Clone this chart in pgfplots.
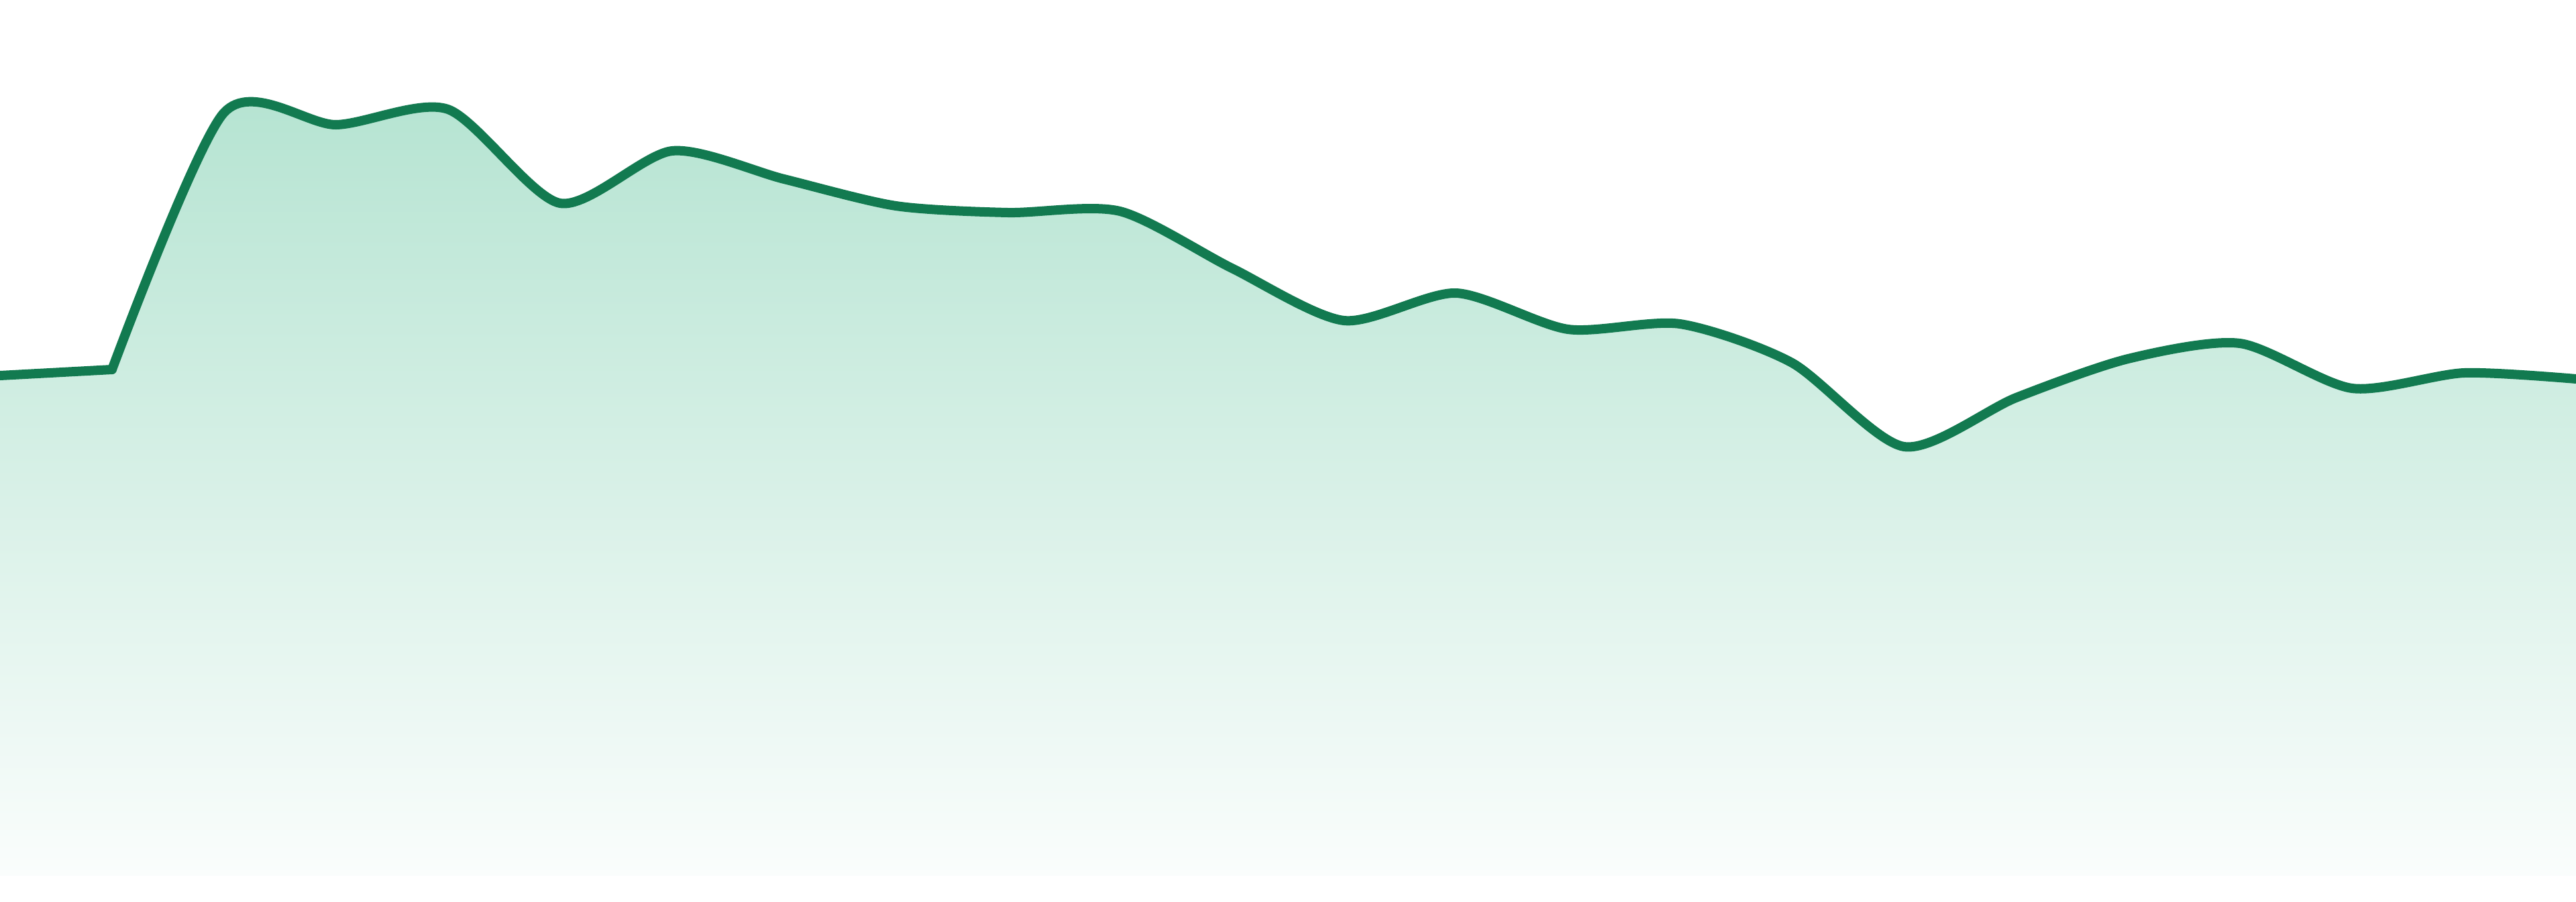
\documentclass[border=0pt]{standalone}
\usepackage{pgfplots}
\pgfplotsset{compat=1.18}
\definecolor{linegreen}{RGB}{18,122,80}
\definecolor{filltop}{RGB}{182,228,210}
\definecolor{fillbot}{RGB}{250,253,252}
\pgfplotstableread{
x y
0 745
1 754
}\partA
\pgfplotstableread{
x y
1 754
2 1137
3 1119
4 1142
5 1002
6 1080
7 1038
8 998
9 988
10 990
11 905
12 827
13 868
14 814
15 822
16 764
17 639
18 712
19 770
20 793
21 726
22 749
23 740
}\partB
\begin{document}
\begin{tikzpicture}
\begin{axis}[
  scale only axis,
  width=384pt, height=134.4pt,
  xmin=0, xmax=23, ymin=-39, ymax=1305,
  hide axis,
  clip=true,
]
% gradient band, then white above the curve
\addplot[draw=none, top color=filltop, bottom color=fillbot, forget plot] coordinates {(0,1150) (23,1150)} \closedcycle;
\addplot[draw=none, fill=white, forget plot] table[x=x,y=y] {\partA} -- (axis cs:1,1305) -- (axis cs:0,1305) -- cycle;
\addplot[draw=none, fill=white, forget plot, smooth, tension=0.45] table[x=x,y=y] {\partB} -- (axis cs:23,1305) -- (axis cs:0.97,1305) -- cycle;
% the line
\addplot[color=linegreen, line width=1.4pt, line cap=round] table[x=x,y=y] {\partA};
\addplot[color=linegreen, line width=1.4pt, line cap=round, smooth, tension=0.45] table[x=x,y=y] {\partB};
\end{axis}
\pgfresetboundingbox
\path (current axis.south west) rectangle (current axis.north east);
\end{tikzpicture}
\end{document}
